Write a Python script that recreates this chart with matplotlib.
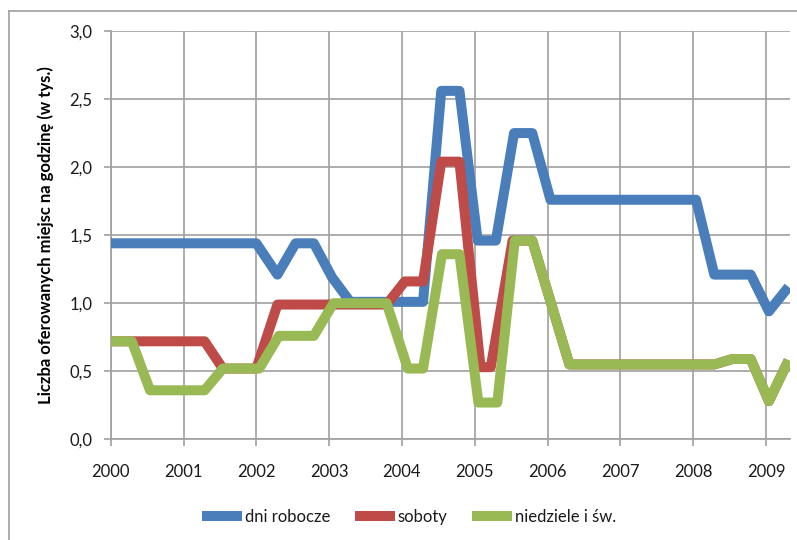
import matplotlib
matplotlib.use("Agg")
import matplotlib.pyplot as plt
from matplotlib.lines import Line2D

plt.rcParams['font.family'] = ['Lato', 'DejaVu Sans']

# --- data (breakpoints; x in fractional years) ---
x_dni = [2000.0, 2002.0, 2002.29, 2002.54, 2002.79, 2003.04, 2003.29, 2004.29, 2004.54,
         2004.79, 2005.04, 2005.29, 2005.54, 2005.79, 2006.04, 2008.04, 2008.29, 2008.79,
         2009.04, 2009.31]
y_dni = [1.44, 1.44, 1.21, 1.44, 1.44, 1.19, 1.01, 1.01, 2.56,
         2.56, 1.46, 1.46, 2.25, 2.25, 1.76, 1.76, 1.21, 1.21,
         0.94, 1.12]

x_sob = [2000.0, 2001.29, 2001.54, 2002.0, 2002.29, 2003.04, 2003.79, 2004.04, 2004.29,
         2004.54, 2004.79, 2005.08, 2005.22, 2005.52, 2005.79, 2006.3, 2008.29, 2008.54,
         2008.79, 2009.04, 2009.31]
y_sob = [0.72, 0.72, 0.52, 0.52, 0.99, 0.99, 0.99, 1.16, 1.16,
         2.04, 2.04, 0.53, 0.53, 1.46, 1.46, 0.55, 0.55, 0.59,
         0.59, 0.28, 0.58]

x_nie = [2000.0, 2000.29, 2000.54, 2001.29, 2001.54, 2002.04, 2002.31, 2002.79, 2003.06,
         2003.79, 2004.08, 2004.29, 2004.55, 2004.79, 2005.05, 2005.31, 2005.55, 2005.79,
         2006.3, 2008.29, 2008.54, 2008.79, 2009.04, 2009.31]
y_nie = [0.72, 0.72, 0.36, 0.36, 0.52, 0.52, 0.76, 0.76, 1.0,
         1.0, 0.52, 0.52, 1.36, 1.36, 0.27, 0.27, 1.46, 1.46,
         0.55, 0.55, 0.59, 0.59, 0.28, 0.58]

series_names = ["dni robocze", "soboty", "niedziele i św."]
year_ticks = [2000, 2001, 2002, 2003, 2004, 2005, 2006, 2007, 2008, 2009]
y_ticks = [0.0, 0.5, 1.0, 1.5, 2.0, 2.5, 3.0]
y_label = "Liczba oferowanych miejsc na godzinę (w tys.)"

colors = ["#4a7ebb", "#be4b48", "#98b954"]

W, H = 797, 540
fig = plt.figure(figsize=(W / 100, H / 100), dpi=100)
ax = fig.add_axes([110.7 / W, 1 - 439.3 / H, (790 - 110.7) / W, (439.3 - 31) / H])

lw = 7.2
lines = []
lines.append(ax.plot(x_dni, y_dni, color=colors[0], lw=lw, solid_joinstyle='round',
                     solid_capstyle='butt', zorder=3, label=series_names[0])[0])
lines.append(ax.plot(x_sob, y_sob, color=colors[1], lw=lw, solid_joinstyle='round',
                     solid_capstyle='butt', zorder=4, label=series_names[1])[0])
lines.append(ax.plot(x_nie, y_nie, color=colors[2], lw=lw, solid_joinstyle='round',
                     solid_capstyle='butt', zorder=5, label=series_names[2])[0])

ax.set_xlim(2000.0, 2009.33)
ax.set_ylim(0, 3.0)
ax.set_xticks(year_ticks)
ax.set_xticklabels([str(y) for y in year_ticks])
ax.set_yticks(y_ticks)
ax.set_yticklabels([f"{v:.1f}".replace(".", ",") for v in y_ticks])

grid_c = "#a0a0a0"
ax.grid(True, color=grid_c, lw=1.2, zorder=1)
ax.set_axisbelow(True)
for s in ["top", "right"]:
    ax.spines[s].set_visible(False)
for s in ["left", "bottom"]:
    ax.spines[s].set_color(grid_c)
    ax.spines[s].set_linewidth(1.2)
ax.tick_params(axis='both', direction='out', length=5, width=1.2, color=grid_c,
               labelsize=12, labelcolor="#1a1a1a")
ax.tick_params(axis='x', pad=13)
ax.tick_params(axis='y', pad=8)

ax.set_ylabel(y_label, fontsize=12, fontweight='bold', color="#000000", labelpad=11)

leg = fig.legend(handles=lines, labels=series_names, loc='center',
                 bbox_to_anchor=(409 / W, 1 - 517 / H), ncol=3, frameon=False,
                 fontsize=12, handlelength=2.4, handletextpad=0.15,
                 columnspacing=1.5)
for t in leg.get_texts():
    t.set_color("#1a1a1a")

# chart area border (top and left visible)
fig.add_artist(Line2D([9 / W, 1.0], [1 - 11 / H, 1 - 11 / H], color="#a0a0a0", lw=1.2,
                      transform=fig.transFigure))
fig.add_artist(Line2D([9 / W, 9 / W], [0.0, 1 - 11 / H], color="#a0a0a0", lw=1.2,
                      transform=fig.transFigure))

fig.savefig("out.png", dpi=100)
